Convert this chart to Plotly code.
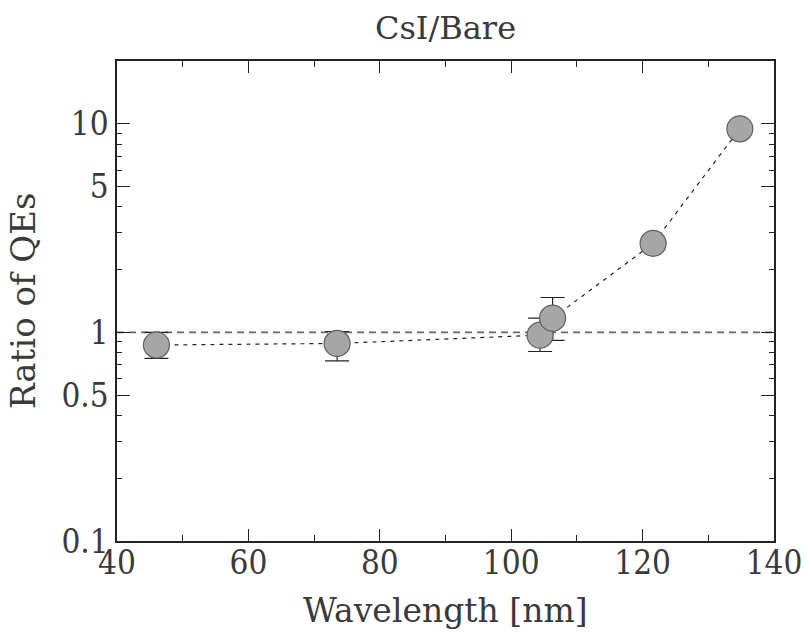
import plotly.graph_objects as go

# Data
wavelength = [46.0, 73.5, 104.4, 106.3, 121.6, 134.8]
ratio = [0.87, 0.885, 0.97, 1.17, 2.67, 9.46]
ratio_upper = [1.0, 1.01, 1.17, 1.47, 2.67, 9.46]
ratio_lower = [0.75, 0.73, 0.81, 0.915, 2.67, 9.46]
reference_level = 1.0

x_ticks = [40, 60, 80, 100, 120, 140]
y_ticks = [0.1, 0.5, 1, 5, 10]
y_tick_text = ["0.1", "0.5", "1", "5", "10"]

err_plus = [u - v for u, v in zip(ratio_upper, ratio)]
err_minus = [v - l for v, l in zip(ratio, ratio_lower)]

FONT = "DejaVu Serif"
TICKFONT = "DejaVu Serif Condensed, DejaVu Serif"
TXT = "#3a3a3a"
AX = "#222222"

fig = go.Figure()
fig.add_trace(go.Scatter(
    x=wavelength, y=ratio, mode="lines+markers",
    line=dict(color="#222222", width=1.2, dash="4px,5px"),
    marker=dict(size=26, color="#a6a6a6", line=dict(color="#606060", width=1.2)),
    error_y=dict(type="data", symmetric=False, array=err_plus, arrayminus=err_minus,
                 color="#222222", thickness=1.2, width=12),
    showlegend=False,
))

fig.add_shape(type="line", xref="paper", x0=0, x1=1, yref="y",
              y0=reference_level, y1=reference_level, layer="below",
              line=dict(color="#666666", width=1.6, dash="7px,5px"))

fig.add_annotation(text="Wavelength [nm]", xref="paper", yref="paper", x=0.5, y=-0.144,
                   xanchor="center", yanchor="middle", showarrow=False,
                   font=dict(size=33, family=FONT, color=TXT))
fig.add_annotation(text="Ratio of QEs", xref="paper", yref="paper", x=-0.143, y=0.5,
                   xanchor="center", yanchor="middle", showarrow=False, textangle=-90,
                   font=dict(size=34, family=FONT, color=TXT))

fig.update_layout(
    width=806, height=634,
    margin=dict(l=117, r=32, t=61, b=93, autoexpand=False),
    paper_bgcolor="white", plot_bgcolor="white",
    font=dict(family=FONT, color=TXT, size=32),
    title=dict(text="CsI/Bare", x=0.5, xref="paper", xanchor="center",
               y=0.956, yanchor="middle", font=dict(size=32, family=FONT, color=TXT)),
)
fig.update_xaxes(
    range=[40, 140], tickvals=x_ticks, ticks="inside", ticklen=12, tickwidth=1.2,
    tickcolor=AX, showline=True, linecolor=AX, linewidth=1.5, mirror="allticks",
    showgrid=False, zeroline=False, automargin=False, ticklabeloverflow="allow",
    ticklabelstandoff=-8,
    minor=dict(ticks="inside", ticklen=6, dtick=10, tickcolor=AX, showgrid=False),
    tickfont=dict(size=33, family=TICKFONT, color=TXT),
)
fig.update_yaxes(
    type="log", range=[-1, 1.301], tickvals=y_ticks, ticktext=y_tick_text,
    ticks="inside", ticklen=13, tickwidth=1.2, tickcolor=AX,
    showline=True, linecolor=AX, linewidth=1.5, mirror="allticks",
    showgrid=False, zeroline=False, automargin=False, ticklabeloverflow="allow",
    minor=dict(ticks="inside", ticklen=5, dtick="D1", tickcolor=AX, showgrid=False),
    tickfont=dict(size=33, family=TICKFONT, color=TXT),
)

fig.write_html("out.html", config={"displayModeBar": False},
               post_script="document.body.style.margin='0';document.body.style.overflow='hidden';")
